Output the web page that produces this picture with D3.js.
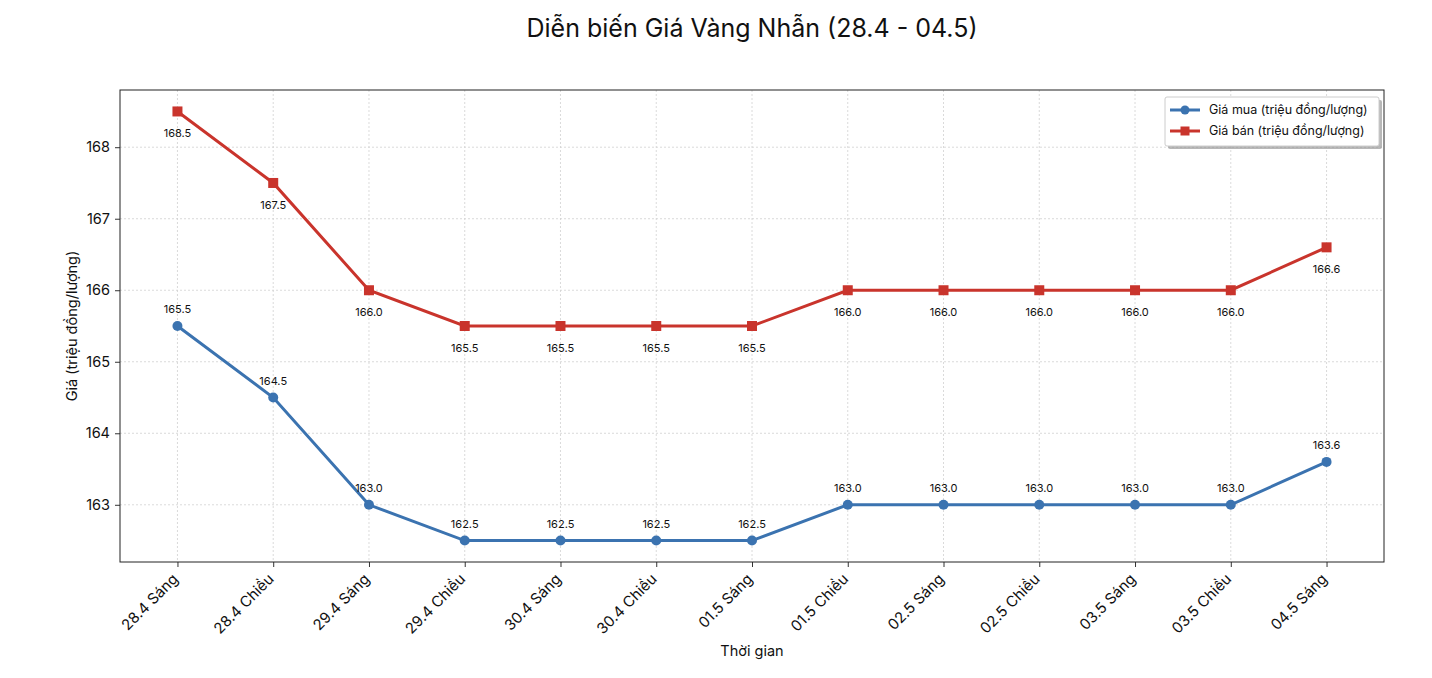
<!DOCTYPE html>
<html lang="vi">
<head>
<meta charset="UTF-8">
<title>Diễn biến Giá Vàng Nhẫn</title>
<script src="https://d3js.org/d3.v7.min.js"></script>
<style>
    body { margin: 0; background: #fff; }
    text { font-family: Inter, "Open Sans", sans-serif; fill: #111; }
    .grid line { stroke: #d0d0d0; stroke-dasharray: 2,2; stroke-width: 0.8; }
</style>
</head>
<body>
<script>
// data
var labels = ["28.4 Sáng", "28.4 Chiều", "29.4 Sáng", "29.4 Chiều", "30.4 Sáng", "30.4 Chiều",
    "01.5 Sáng", "01.5 Chiều", "02.5 Sáng", "02.5 Chiều", "03.5 Sáng", "03.5 Chiều", "04.5 Sáng"];
var buyPrices = [165.5, 164.5, 163.0, 162.5, 162.5, 162.5, 162.5, 163.0, 163.0, 163.0, 163.0, 163.0, 163.6];
var sellPrices = [168.5, 167.5, 166.0, 165.5, 165.5, 165.5, 165.5, 166.0, 166.0, 166.0, 166.0, 166.0, 166.6];
var yTicks = [163, 164, 165, 166, 167, 168];

var width = 1432, height = 678;
var margin = {left: 120, right: 48, top: 90, bottom: 116};
var innerW = width - margin.left - margin.right;
var innerH = height - margin.top - margin.bottom;

var blue = "#3b73b0", red = "#c9342c";

var svg = d3.select("body").append("svg")
    .attr("width", width)
    .attr("height", height);

// matplotlib style 5% padding
var x = d3.scaleLinear().domain([-0.6, labels.length - 1 + 0.6]).range([0, innerW]);
var y = d3.scaleLinear().domain([162.2, 168.8]).range([innerH, 0]);

var g = svg.append("g").attr("transform", "translate(" + margin.left + "," + margin.top + ")");

// grid
g.append("g").attr("class", "grid")
    .selectAll("line.v").data(labels).enter().append("line")
    .attr("x1", (d, i) => x(i)).attr("x2", (d, i) => x(i))
    .attr("y1", 0).attr("y2", innerH);
g.append("g").attr("class", "grid")
    .selectAll("line.h").data(yTicks).enter().append("line")
    .attr("x1", 0).attr("x2", innerW)
    .attr("y1", d => y(d)).attr("y2", d => y(d));

// axes
var xAxis = g.append("g")
    .attr("transform", "translate(0," + innerH + ")")
    .call(d3.axisBottom(x).tickValues(d3.range(labels.length)).tickFormat(i => labels[i]).tickSize(5).tickPadding(4));
xAxis.selectAll("text")
    .style("font-size", "15px")
    .attr("text-anchor", "end")
    .attr("dx", "-0.8em")
    .attr("dy", "0.3em")
    .attr("transform", "rotate(-45)");

var yAxis = g.append("g")
    .call(d3.axisLeft(y).tickValues(yTicks).tickFormat(d3.format("d")).tickSize(5).tickPadding(5));
yAxis.selectAll("text").style("font-size", "14.5px");

[xAxis, yAxis].forEach(a => {
    a.select(".domain").remove();
    a.selectAll(".tick line").attr("stroke", "#333");
});

// frame
g.append("rect")
    .attr("width", innerW).attr("height", innerH)
    .attr("fill", "none").attr("stroke", "#222").attr("stroke-width", 1);

var line = d3.line().x((d, i) => x(i)).y(d => y(d));

// sell series (red, squares)
g.append("path").datum(sellPrices)
    .attr("d", line).attr("fill", "none")
    .attr("stroke", red).attr("stroke-width", 3);
g.selectAll("rect.sell").data(sellPrices).enter().append("rect")
    .attr("class", "sell")
    .attr("x", (d, i) => x(i) - 5).attr("y", d => y(d) - 5)
    .attr("width", 10).attr("height", 10)
    .attr("fill", red);
g.selectAll("text.sell").data(sellPrices).enter().append("text")
    .attr("class", "sell")
    .attr("x", (d, i) => x(i)).attr("y", d => y(d) + 26)
    .attr("text-anchor", "middle")
    .style("font-size", "11px")
    .text(d => d.toFixed(1));

// buy series (blue, circles)
g.append("path").datum(buyPrices)
    .attr("d", line).attr("fill", "none")
    .attr("stroke", blue).attr("stroke-width", 3);
g.selectAll("circle.buy").data(buyPrices).enter().append("circle")
    .attr("class", "buy")
    .attr("cx", (d, i) => x(i)).attr("cy", d => y(d))
    .attr("r", 5)
    .attr("fill", blue);
g.selectAll("text.buy").data(buyPrices).enter().append("text")
    .attr("class", "buy")
    .attr("x", (d, i) => x(i)).attr("y", d => y(d) - 13)
    .attr("text-anchor", "middle")
    .style("font-size", "11px")
    .text(d => d.toFixed(1));

// title and axis labels
svg.append("text")
    .attr("x", margin.left + innerW / 2).attr("y", 37)
    .attr("text-anchor", "middle")
    .style("font-size", "25px")
    .text("Diễn biến Giá Vàng Nhẫn (28.4 - 04.5)");

svg.append("text")
    .attr("x", margin.left + innerW / 2).attr("y", 656)
    .attr("text-anchor", "middle")
    .style("font-size", "14.5px")
    .text("Thời gian");

svg.append("text")
    .attr("transform", "translate(77," + (margin.top + innerH / 2) + ") rotate(-90)")
    .attr("text-anchor", "middle")
    .style("font-size", "14.5px")
    .text("Giá (triệu đồng/lượng)");

// legend with shadow
var legendItems = [
    {name: "Giá mua (triệu đồng/lượng)", color: blue, shape: "circle"},
    {name: "Giá bán (triệu đồng/lượng)", color: red, shape: "square"}
];
var lg = svg.append("g").attr("transform", "translate(1165,97)");
lg.append("rect")
    .attr("x", 3).attr("y", 3).attr("width", 214).attr("height", 49)
    .attr("rx", 2).attr("fill", "#888").attr("opacity", 0.6);
lg.append("rect")
    .attr("width", 214).attr("height", 49)
    .attr("rx", 2).attr("fill", "#fff").attr("stroke", "#ccc");
lg.selectAll("g.item").data(legendItems).enter().append("g")
    .attr("class", "item")
    .attr("transform", (d, i) => "translate(5," + (13 + i * 21) + ")")
    .each(function(d) {
        var it = d3.select(this);
        it.append("line").attr("x1", 0).attr("x2", 30)
            .attr("stroke", d.color).attr("stroke-width", 3);
        if (d.shape === "circle") {
            it.append("circle").attr("cx", 15).attr("r", 4.5).attr("fill", d.color);
        } else {
            it.append("rect").attr("x", 10.5).attr("y", -4.5).attr("width", 9).attr("height", 9).attr("fill", d.color);
        }
        it.append("text").attr("x", 39).attr("dy", "0.35em")
            .style("font-size", "12.5px").text(d.name);
    });
</script>
</body>
</html>
